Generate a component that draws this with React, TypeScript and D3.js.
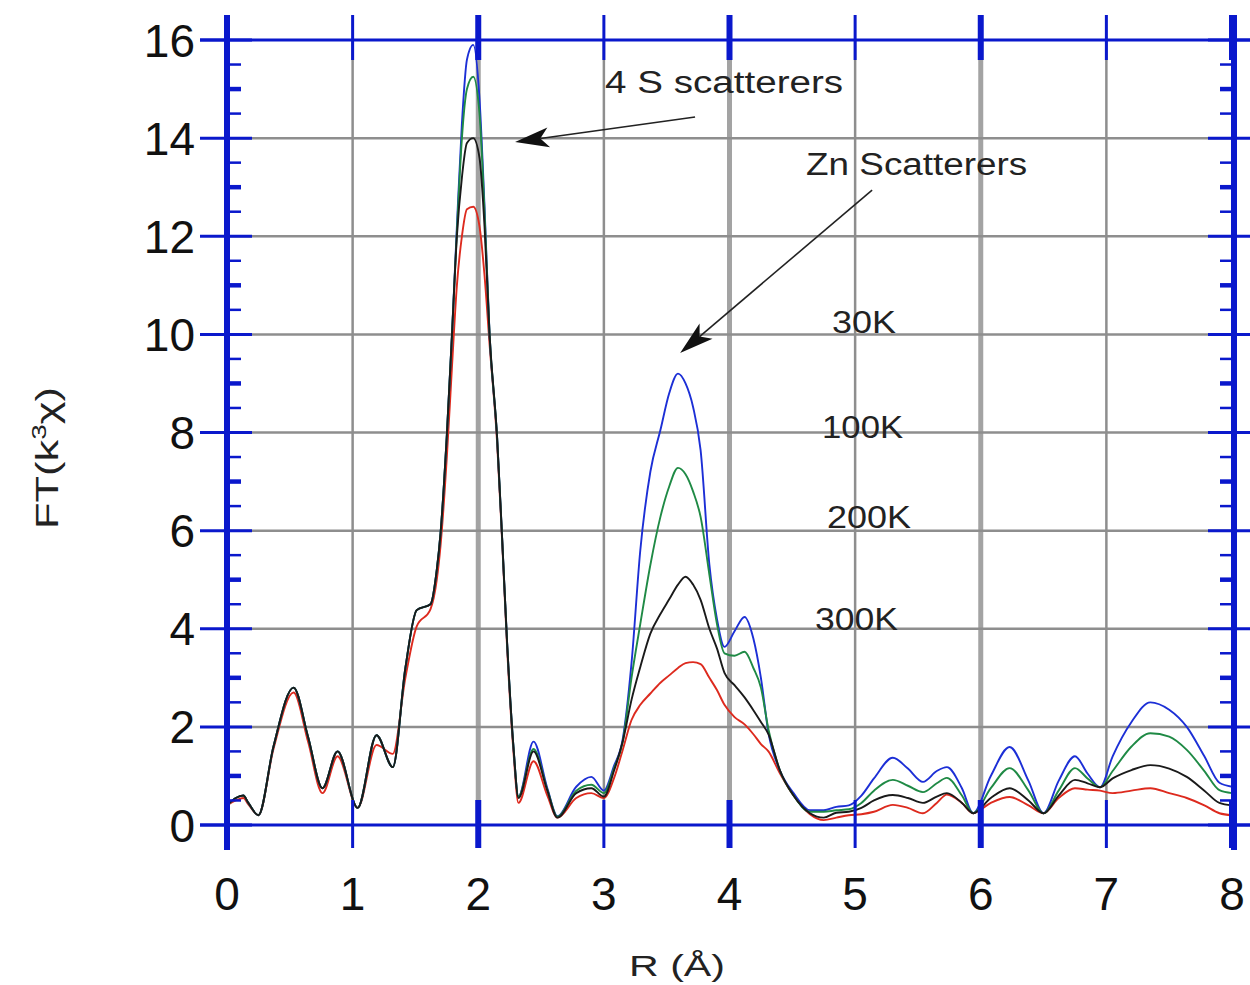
import React from "react";
import * as d3 from "d3";

// R (Å) sample positions
const R = [
  0, 0.07, 0.13, 0.17, 0.25, 0.37, 0.53, 0.645, 0.76, 0.88, 1.04, 1.19, 1.32, 1.42, 1.51, 1.62, 1.67, 1.7, 1.75, 1.79,
  1.83, 1.87, 1.91, 1.96, 2.01, 2.05, 2.09, 2.15, 2.19, 2.23, 2.28, 2.32, 2.44, 2.55, 2.63, 2.78, 2.9, 3.0, 3.08, 3.15,
  3.22, 3.29, 3.37, 3.45, 3.52, 3.59, 3.65, 3.71, 3.77, 3.84, 3.9, 3.96, 4.04, 4.12, 4.19, 4.25, 4.31, 4.4, 4.51, 4.64,
  4.75, 4.85, 4.95, 5.05, 5.15, 5.3, 5.42, 5.54, 5.65, 5.73, 5.85, 5.94, 6.08, 6.23, 6.38, 6.5, 6.62, 6.75, 6.85, 6.95,
  7.05, 7.2, 7.35, 7.5, 7.64, 7.78, 7.9, 8.0,
];

const FT_30K = [
  0.4, 0.55, 0.6, 0.45, 0.2, 1.6, 2.8, 1.8, 0.75, 1.5, 0.35, 1.83, 1.18, 3.2, 4.38, 4.5, 5.2, 5.95, 7.95, 9.95,
  12.2, 14.3, 15.6, 15.9, 14.8, 12.6, 10.0, 7.9, 5.85, 3.7, 1.6, 0.58, 1.7, 0.75, 0.18, 0.78, 0.98, 0.7, 1.2, 1.75,
  3.3, 5.6, 7.2, 8.05, 8.8, 9.2, 9.0, 8.52, 7.64, 5.3, 4.2, 3.63, 3.95, 4.24, 3.8, 3.0, 1.88, 1.12, 0.65, 0.3,
  0.3, 0.37, 0.4, 0.6, 0.95, 1.37, 1.15, 0.88, 1.1, 1.18, 0.75, 0.24, 1.0, 1.59, 0.9, 0.24, 0.9, 1.4, 1.05, 0.77,
  1.4, 2.1, 2.5, 2.35, 2.0, 1.4, 0.86, 0.78,
];

const FT_100K = [
  0.4, 0.55, 0.6, 0.45, 0.2, 1.6, 2.8, 1.8, 0.75, 1.5, 0.35, 1.83, 1.18, 3.2, 4.38, 4.5, 5.2, 5.95, 7.95, 9.95,
  12.1, 14.0, 15.0, 15.25, 14.5, 12.5, 10.0, 7.9, 5.85, 3.7, 1.6, 0.58, 1.55, 0.72, 0.17, 0.7, 0.82, 0.65, 1.15, 1.7,
  3.0, 4.1, 5.3, 6.28, 6.9, 7.28, 7.15, 6.8, 6.28, 5.1, 4.1, 3.5, 3.45, 3.53, 3.2, 2.8, 1.95, 1.12, 0.6, 0.27,
  0.27, 0.3, 0.32, 0.45, 0.7, 0.92, 0.8, 0.67, 0.85, 0.96, 0.6, 0.24, 0.75, 1.16, 0.7, 0.24, 0.7, 1.16, 0.95, 0.77,
  1.1, 1.6, 1.87, 1.8, 1.53, 1.1, 0.71, 0.65,
];

const FT_200K = [
  0.4, 0.55, 0.6, 0.45, 0.2, 1.6, 2.8, 1.8, 0.75, 1.5, 0.35, 1.83, 1.18, 3.2, 4.38, 4.5, 5.2, 5.95, 7.95, 9.95,
  12.0, 13.2, 13.9, 14.0, 13.6, 12.2, 10.0, 7.9, 5.85, 3.7, 1.6, 0.55, 1.5, 0.7, 0.15, 0.65, 0.75, 0.58, 1.1, 1.7,
  2.55, 3.22, 3.9, 4.3, 4.6, 4.9, 5.06, 4.9, 4.59, 4.0, 3.6, 3.1, 2.85, 2.6, 2.34, 2.1, 1.85, 1.12, 0.6, 0.24,
  0.15, 0.25, 0.27, 0.35, 0.5, 0.61, 0.55, 0.45, 0.58, 0.65, 0.45, 0.24, 0.55, 0.75, 0.5, 0.24, 0.6, 0.92, 0.85, 0.77,
  0.95, 1.12, 1.22, 1.15, 0.98, 0.7, 0.45, 0.4,
];

const FT_300K = [
  0.4, 0.5, 0.55, 0.42, 0.2, 1.55, 2.7, 1.7, 0.65, 1.4, 0.35, 1.63, 1.45, 3.0, 4.05, 4.4, 5.0, 5.7, 7.5, 9.3,
  11.0, 12.0, 12.55, 12.6, 12.2, 11.2, 9.8, 7.8, 5.8, 3.6, 1.5, 0.45, 1.3, 0.6, 0.15, 0.55, 0.65, 0.55, 0.95, 1.53,
  2.14, 2.45, 2.68, 2.9, 3.05, 3.2, 3.3, 3.32, 3.28, 3.0, 2.75, 2.45, 2.2, 2.05, 1.85, 1.65, 1.5, 1.06, 0.6, 0.22,
  0.1, 0.15, 0.2, 0.22, 0.27, 0.41, 0.35, 0.24, 0.45, 0.62, 0.45, 0.24, 0.45, 0.57, 0.4, 0.24, 0.55, 0.75, 0.72, 0.7,
  0.65, 0.7, 0.75, 0.65, 0.55, 0.4, 0.24, 0.2,
];

const SERIES_NAMES = ["300K", "30K", "100K", "200K"];
const SERIES_VALUES = [FT_300K, FT_30K, FT_100K, FT_200K];
const SERIES_COLORS = ["#dd2a1e", "#1c2fd6", "#1f8a45", "#1a1a1a"];

const X_TICKS = [0, 1, 2, 3, 4, 5, 6, 7, 8];
const Y_TICKS = [0, 2, 4, 6, 8, 10, 12, 14, 16];

// annotations: [text, R, FT, length]
const LABELS: [string, number, number, number][] = [
  ["4  S  scatterers", 3.01, 14.92, 238],
  ["Zn  Scatterers", 4.61, 13.25, 221],
  ["30K", 4.817, 10.03, 64],
  ["100K", 4.737, 7.89, 81],
  ["200K", 4.777, 6.05, 84],
  ["300K", 4.68, 3.97, 83],
];
// arrows: [fromR, fromFT, toR, toFT]
const ARROWS: [number, number, number, number][] = [
  [3.726, 14.43, 2.293, 13.92],
  [5.135, 12.94, 3.607, 9.62],
];

const AXIS_BLUE = "#0a18cc";
const FONT = "'Liberation Sans', Arial, Helvetica, sans-serif";

export default function App() {
  const x = d3.scaleLinear().domain([0, 8]).range([227, 1232]);
  const y = d3.scaleLinear().domain([0, 16]).range([825, 40]);
  const line = d3
    .line<[number, number]>()
    .x((d) => x(d[0]))
    .y((d) => y(d[1]))
    .curve(d3.curveMonotoneX);

  const minor = d3.range(1, 32).map((i) => i * 0.5).filter((v) => v % 2 !== 0);
  const top = y(16);
  const bot = y(0);
  const left = x(0);
  const right = x(8) + 2;

  const arrowHead = (a: [number, number, number, number]) => {
    const x1 = x(a[0]), y1 = y(a[1]), x2 = x(a[2]), y2 = y(a[3]);
    const ang = Math.atan2(y2 - y1, x2 - x1);
    const L = 34, W = 10;
    const bx = x2 - L * Math.cos(ang), by = y2 - L * Math.sin(ang);
    const nx = -Math.sin(ang), ny = Math.cos(ang);
    const mx = x2 - L * 0.75 * Math.cos(ang), my = y2 - L * 0.75 * Math.sin(ang);
    return {
      line: [x1, y1, mx, my],
      pts: `${x2},${y2} ${bx + nx * W},${by + ny * W} ${mx},${my} ${bx - nx * W},${by - ny * W}`,
    };
  };

  return (
    <svg
      width={1250}
      height={985}
      style={{ position: "absolute", left: 0, top: 0, background: "#fff" }}
      fontFamily={FONT}
    >
      <rect width={1250} height={985} fill="#fff" />
      {/* vertical grid */}
      {X_TICKS.filter((t) => t > 0 && t < 8).map((t) => (
        <line
          key={"vg" + t}
          x1={x(t)}
          x2={x(t)}
          y1={top}
          y2={bot}
          stroke={t % 2 === 0 ? "#a3a3a3" : "#8e8e8e"}
          strokeWidth={t % 2 === 0 ? 5 : 2.5}
        />
      ))}
      {/* horizontal grid */}
      {Y_TICKS.filter((t) => t > 0 && t < 16).map((t) => (
        <line key={"hg" + t} x1={left} x2={right} y1={y(t)} y2={y(t)} stroke="#8e8e8e" strokeWidth={2.5} />
      ))}

      {/* curves */}
      {SERIES_VALUES.map((vals, i) => (
        <path
          key={SERIES_NAMES[i]}
          d={line(R.map((r, j) => [r, vals[j]] as [number, number])) || ""}
          fill="none"
          stroke={SERIES_COLORS[i]}
          strokeWidth={1.9}
          strokeLinejoin="round"
        />
      ))}

      {/* frame */}
      <line x1={200} x2={1250} y1={top} y2={top} stroke={AXIS_BLUE} strokeWidth={3} />
      <line x1={200} x2={1250} y1={bot} y2={bot} stroke={AXIS_BLUE} strokeWidth={3} />
      <line x1={left} x2={left} y1={15} y2={850} stroke={AXIS_BLUE} strokeWidth={6} />
      <line x1={right} x2={right} y1={15} y2={850} stroke={AXIS_BLUE} strokeWidth={6} />

      {/* y ticks */}
      {Y_TICKS.map((t) => (
        <g key={"yt" + t}>
          <line x1={200} x2={252} y1={y(t)} y2={y(t)} stroke={AXIS_BLUE} strokeWidth={3} />
          <line x1={1208} x2={1250} y1={y(t)} y2={y(t)} stroke={AXIS_BLUE} strokeWidth={3} />
          <text x={195} y={y(t) + 16.5} textAnchor="end" fontSize={46} fill="#111">
            {t}
          </text>
        </g>
      ))}
      {minor.map((t) => (
        <g key={"ym" + t}>
          <line x1={left} x2={left + 14} y1={y(t)} y2={y(t)} stroke={AXIS_BLUE} strokeWidth={t % 1 === 0 ? 4.5 : 2.5} />
          <line x1={right - 14} x2={right} y1={y(t)} y2={y(t)} stroke={AXIS_BLUE} strokeWidth={t % 1 === 0 ? 4.5 : 2.5} />
        </g>
      ))}

      {/* x ticks */}
      {X_TICKS.map((t) => (
        <g key={"xt" + t}>
          <line x1={x(t)} x2={x(t)} y1={15} y2={60} stroke={AXIS_BLUE} strokeWidth={t % 2 === 0 ? 6 : 3} />
          <line x1={x(t)} x2={x(t)} y1={800} y2={848} stroke={AXIS_BLUE} strokeWidth={t % 2 === 0 ? 6 : 3} />
          <text x={x(t)} y={910} textAnchor="middle" fontSize={46} fill="#111">
            {t}
          </text>
        </g>
      ))}

      {/* axis titles */}
      <text x={677} y={976} textAnchor="middle" fontSize={30} fill="#222" textLength={96} lengthAdjust="spacingAndGlyphs">
        R  (Å)
      </text>
      <text
        transform="translate(58,458) rotate(-90)"
        textAnchor="middle"
        fontSize={31}
        fill="#222"
        textLength={142}
        lengthAdjust="spacingAndGlyphs"
      >
        <tspan>FT(k</tspan>
        <tspan fontSize={20} dy={-12}>3</tspan>
        <tspan dy={12}>χ)</tspan>
      </text>

      {/* annotations */}
      {LABELS.map(([txt, r, v, len]) => (
        <text
          key={txt}
          x={x(r)}
          y={y(v)}
          fontSize={31}
          fill="#222"
          textLength={len}
          lengthAdjust="spacingAndGlyphs"
        >
          {txt}
        </text>
      ))}
      {ARROWS.map((a, i) => {
        const h = arrowHead(a);
        return (
          <g key={"ar" + i}>
            <line x1={h.line[0]} y1={h.line[1]} x2={h.line[2]} y2={h.line[3]} stroke="#222" strokeWidth={1.6} />
            <polygon points={h.pts} fill="#111" />
          </g>
        );
      })}
    </svg>
  );
}
